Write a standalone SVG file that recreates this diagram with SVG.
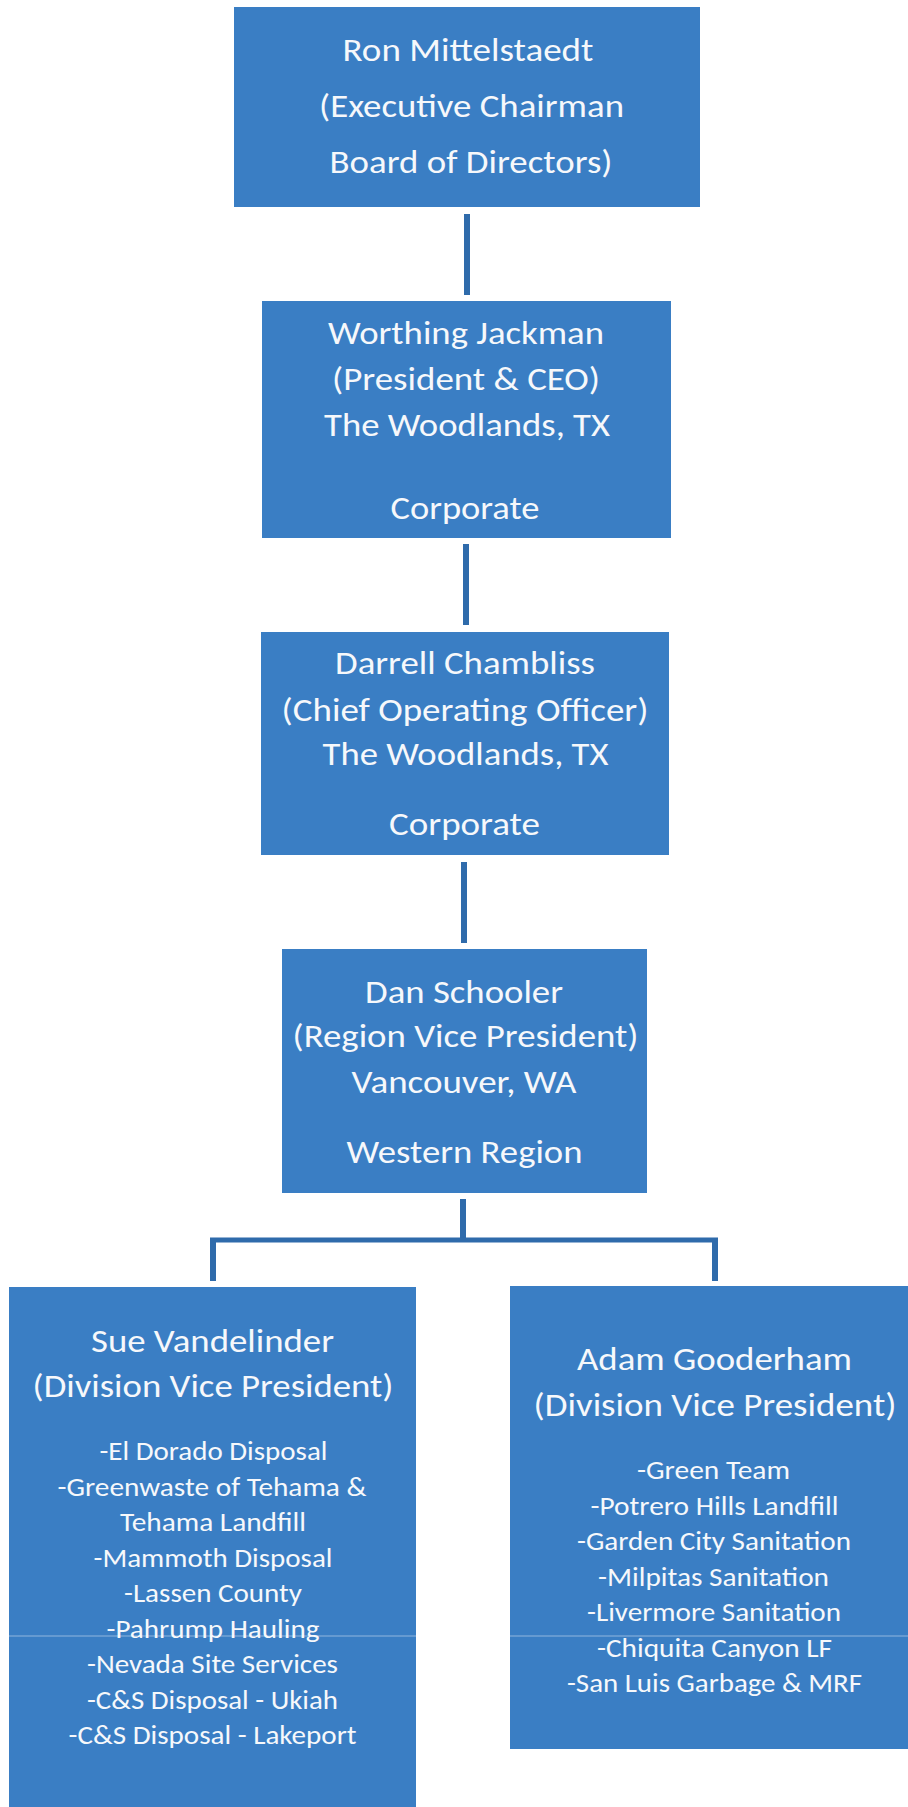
<svg xmlns="http://www.w3.org/2000/svg" width="908" height="1807" viewBox="0 0 908 1807">
  <style>
    .box { fill: #3a7ec4; }
    .wire { stroke: #2f6bab; stroke-width: 6; fill: none; }
    .bar { stroke: #2f6bab; stroke-width: 5; fill: none; }
    .seam { stroke: #ffffff; stroke-opacity: 0.22; stroke-width: 2; }
    text { font-family: Calibri, Carlito, Lato, "Open Sans", sans-serif; fill: #f6f8fb; text-anchor: middle; }
    .hd { font-size: 33px; }
    .li { font-size: 26px; }
  </style>
  <rect width="908" height="1807" fill="#ffffff"/>

  <!-- reporting lines -->
  <g id="connectors">
    <line class="wire" x1="467" y1="214" x2="467" y2="295"/>
    <line class="wire" x1="466" y1="544" x2="466" y2="625"/>
    <line class="wire" x1="464" y1="862" x2="464" y2="943"/>
    <line class="wire" x1="463" y1="1199" x2="463" y2="1240"/>
    <line class="bar" x1="210" y1="1240" x2="718" y2="1240"/>
    <line class="wire" x1="213" y1="1240" x2="213" y2="1281"/>
    <line class="wire" x1="715" y1="1240" x2="715" y2="1281"/>
  </g>

  <g id="node-chairman">
    <rect class="box" x="234" y="7" width="466" height="200"/>
    <text class="hd" x="468" y="61" textLength="251" lengthAdjust="spacingAndGlyphs">Ron Mittelstaedt</text>
    <text class="hd" x="471.5" y="117" textLength="305" lengthAdjust="spacingAndGlyphs">(Executive Chairman</text>
    <text class="hd" x="471" y="173" textLength="283" lengthAdjust="spacingAndGlyphs">Board of Directors)</text>
  </g>

  <g id="node-ceo">
    <rect class="box" x="262" y="301" width="409" height="237"/>
    <text class="hd" x="466" y="344" textLength="276" lengthAdjust="spacingAndGlyphs">Worthing Jackman</text>
    <text class="hd" x="466" y="390" textLength="268" lengthAdjust="spacingAndGlyphs">(President &amp; CEO)</text>
    <text class="hd" x="467" y="436" textLength="286" lengthAdjust="spacingAndGlyphs">The Woodlands, TX</text>
    <text class="hd" x="465" y="519" textLength="149" lengthAdjust="spacingAndGlyphs">Corporate</text>
  </g>

  <g id="node-coo">
    <rect class="box" x="261" y="632" width="408" height="223"/>
    <text class="hd" x="465" y="674" textLength="260" lengthAdjust="spacingAndGlyphs">Darrell Chambliss</text>
    <text class="hd" x="465" y="721" textLength="367" lengthAdjust="spacingAndGlyphs">(Chief Operating Officer)</text>
    <text class="hd" x="465.5" y="765" textLength="286" lengthAdjust="spacingAndGlyphs">The Woodlands, TX</text>
    <text class="hd" x="464.5" y="835" textLength="151" lengthAdjust="spacingAndGlyphs">Corporate</text>
  </g>

  <g id="node-region-vp">
    <rect class="box" x="282" y="949" width="365" height="244"/>
    <text class="hd" x="464" y="1003" textLength="198" lengthAdjust="spacingAndGlyphs">Dan Schooler</text>
    <text class="hd" x="465.5" y="1047" textLength="346" lengthAdjust="spacingAndGlyphs">(Region Vice President)</text>
    <text class="hd" x="464" y="1093" textLength="225" lengthAdjust="spacingAndGlyphs">Vancouver, WA</text>
    <text class="hd" x="464.5" y="1163" textLength="236" lengthAdjust="spacingAndGlyphs">Western Region</text>
  </g>

  <g id="node-division-west">
    <rect class="box" x="9" y="1287" width="407" height="530"/>
    <text class="hd" x="212.5" y="1352" textLength="243" lengthAdjust="spacingAndGlyphs">Sue Vandelinder</text>
    <text class="hd" x="213" y="1397" textLength="361" lengthAdjust="spacingAndGlyphs">(Division Vice President)</text>
    <text class="li" x="213.5" y="1460" textLength="228" lengthAdjust="spacingAndGlyphs">-El Dorado Disposal</text>
    <text class="li" x="212" y="1495.5" textLength="309" lengthAdjust="spacingAndGlyphs">-Greenwaste of Tehama &amp;</text>
    <text class="li" x="213" y="1531" textLength="186" lengthAdjust="spacingAndGlyphs">Tehama Landfill</text>
    <text class="li" x="213" y="1566.5" textLength="239" lengthAdjust="spacingAndGlyphs">-Mammoth Disposal</text>
    <text class="li" x="213" y="1602" textLength="178" lengthAdjust="spacingAndGlyphs">-Lassen County</text>
    <text class="li" x="213" y="1637.5" textLength="213" lengthAdjust="spacingAndGlyphs">-Pahrump Hauling</text>
    <text class="li" x="212.5" y="1673" textLength="251" lengthAdjust="spacingAndGlyphs">-Nevada Site Services</text>
    <text class="li" x="212.5" y="1708.5" textLength="251" lengthAdjust="spacingAndGlyphs">-C&amp;S Disposal - Ukiah</text>
    <text class="li" x="212.5" y="1744" textLength="288" lengthAdjust="spacingAndGlyphs">-C&amp;S Disposal - Lakeport</text>
  </g>

  <g id="node-division-bay">
    <rect class="box" x="510" y="1286" width="408" height="463"/>
    <text class="hd" x="714.5" y="1370" textLength="275" lengthAdjust="spacingAndGlyphs">Adam Gooderham</text>
    <text class="hd" x="715" y="1416" textLength="363" lengthAdjust="spacingAndGlyphs">(Division Vice President)</text>
    <text class="li" x="713.5" y="1479" textLength="153" lengthAdjust="spacingAndGlyphs">-Green Team</text>
    <text class="li" x="714.5" y="1514.5" textLength="248" lengthAdjust="spacingAndGlyphs">-Potrero Hills Landfill</text>
    <text class="li" x="714" y="1550" textLength="274" lengthAdjust="spacingAndGlyphs">-Garden City Sanitation</text>
    <text class="li" x="713.5" y="1585.5" textLength="231" lengthAdjust="spacingAndGlyphs">-Milpitas Sanitation</text>
    <text class="li" x="714" y="1621" textLength="254" lengthAdjust="spacingAndGlyphs">-Livermore Sanitation</text>
    <text class="li" x="714.5" y="1656.5" textLength="235" lengthAdjust="spacingAndGlyphs">-Chiquita Canyon LF</text>
    <text class="li" x="714.5" y="1692" textLength="295" lengthAdjust="spacingAndGlyphs">-San Luis Garbage &amp; MRF</text>
  </g>

  <!-- faint paper fold running across the two lower boxes -->
  <g id="fold">
    <line class="seam" x1="9" y1="1636" x2="416" y2="1636"/>
    <line class="seam" x1="510" y1="1636" x2="908" y2="1636"/>
  </g>
</svg>
